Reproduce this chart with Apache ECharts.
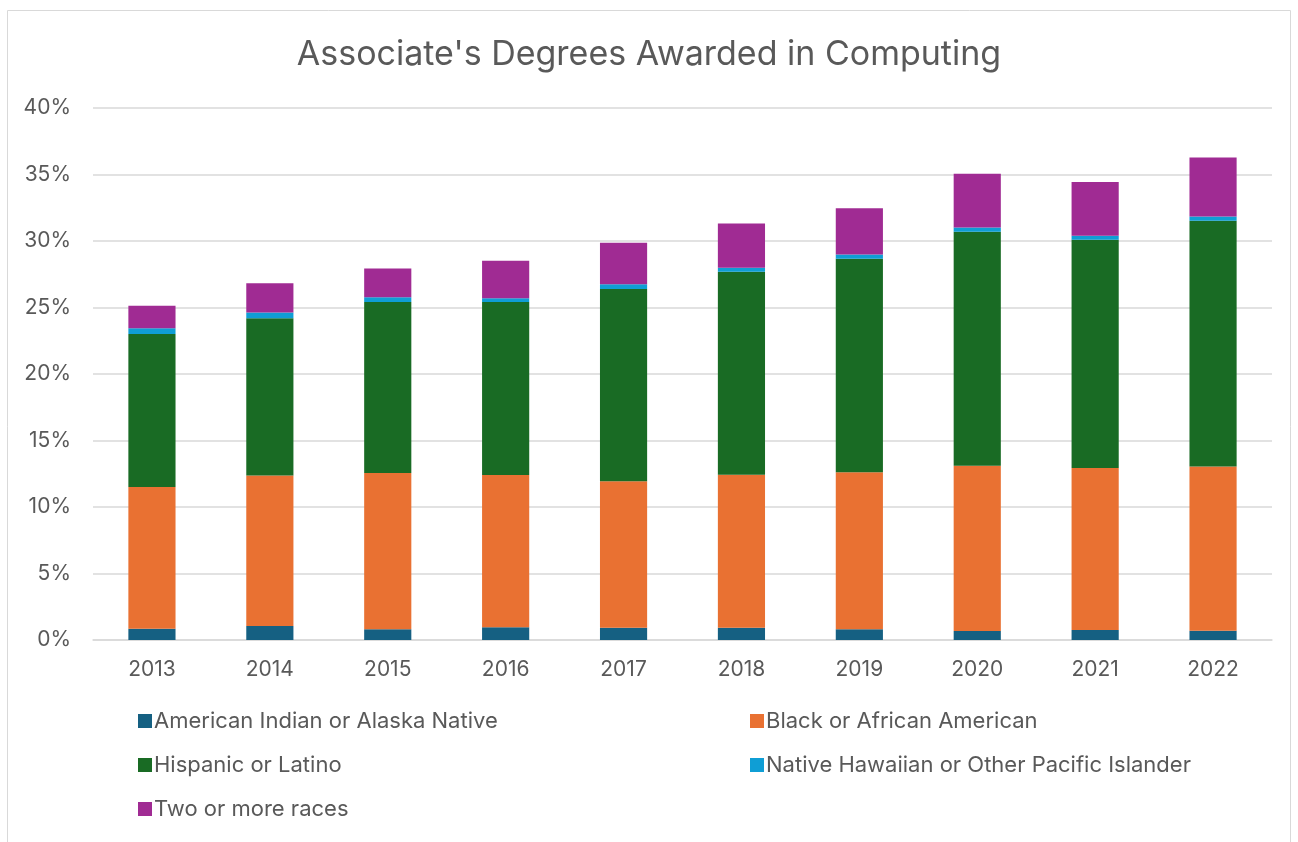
<!DOCTYPE html>
<html>
<head>
<meta charset="utf-8">
<script src="https://cdn.jsdelivr.net/npm/echarts@6/dist/echarts.min.js"></script>
<style>
  html, body { margin: 0; padding: 0; background: #fff; }
  #main { width: 1298px; height: 842px; }
</style>
</head>
<body>
<div id="main"></div>
<script>
// years on the x axis
var years = ['2013', '2014', '2015', '2016', '2017', '2018', '2019', '2020', '2021', '2022'];

// share of associate's degrees, in percent
var americanIndian = [0.85, 1.05, 0.8, 0.95, 0.93, 0.93, 0.8, 0.68, 0.75, 0.7];
var black = [10.65, 11.31, 11.76, 11.46, 11.0, 11.5, 11.81, 12.42, 12.19, 12.34];
var hispanic = [11.5, 11.83, 12.86, 13.01, 14.47, 15.25, 16.05, 17.6, 17.15, 18.48];
var nativeHawaiian = [0.44, 0.43, 0.35, 0.28, 0.35, 0.3, 0.33, 0.32, 0.3, 0.33];
var twoOrMore = [1.7, 2.21, 2.16, 2.81, 3.11, 3.34, 3.47, 4.03, 4.05, 4.42];

var names = ['American Indian or Alaska Native', 'Black or African American',
  'Hispanic or Latino', 'Native Hawaiian or Other Pacific Islander', 'Two or more races'];
var colors = ['#156082', '#E97132', '#196B24', '#0F9ED5', '#A02B93'];
var values = [americanIndian, black, hispanic, nativeHawaiian, twoOrMore];

var font = 'Inter';
var textColor = '#595959';

var myChart = echarts.init(document.getElementById('main'));

var series = names.map(function (name, i) {
  return {
    name: name,
    type: 'bar',
    stack: 'total',
    barWidth: '40%',
    itemStyle: { color: colors[i] },
    data: values[i]
  };
});

var legendCommon = {
  orient: 'vertical',
  icon: 'rect',
  itemWidth: 14,
  itemHeight: 14,
  itemGap: 20,
  textStyle: { fontFamily: font, fontSize: 22, lineHeight: 24, color: textColor, padding: [0, 0, 0, -3] }
};

option = {
  animation: false,
  textStyle: { fontFamily: font },
  title: {
    text: "Associate's Degrees Awarded in Computing",
    left: 'center',
    top: 33,
    textStyle: { fontFamily: font, fontSize: 34, fontWeight: 'normal', color: textColor }
  },
  graphic: [{
    type: 'rect',
    shape: { x: 7.5, y: 10.5, width: 1283, height: 840 },
    style: { fill: 'none', stroke: '#d9d9d9', lineWidth: 1 },
    silent: true
  }],
  legend: [
    Object.assign({ left: 133, top: 704, data: [names[0], names[2], names[4]] }, legendCommon),
    Object.assign({ left: 745, top: 704, data: [names[1], names[3]] }, legendCommon)
  ],
  grid: { left: 93, right: 26, top: 108, bottom: 202 },
  xAxis: {
    type: 'category',
    data: years,
    axisLine: { lineStyle: { color: '#d9d9d9', width: 1.5 } },
    axisTick: { show: false },
    axisLabel: { color: textColor, fontSize: 21, margin: 19, fontFamily: font }
  },
  yAxis: {
    type: 'value',
    min: 0,
    max: 40,
    interval: 5,
    axisLabel: { formatter: '{value}%', color: textColor, fontSize: 21, margin: 22, fontFamily: font },
    splitLine: { lineStyle: { color: '#d9d9d9', width: 1.5 } },
    axisLine: { show: false },
    axisTick: { show: false }
  },
  series: series
};
myChart.setOption(option);
</script>
</body>
</html>
